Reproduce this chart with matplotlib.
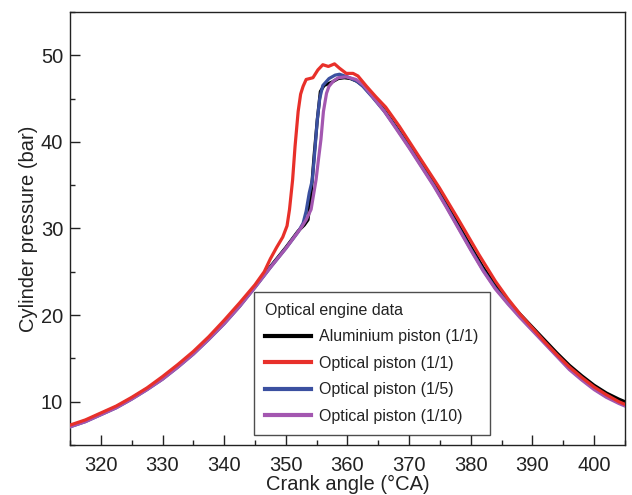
import matplotlib
matplotlib.use("Agg")
import matplotlib.pyplot as plt
from matplotlib.ticker import MultipleLocator

plt.rcParams['font.family'] = ['Liberation Sans', 'DejaVu Sans']

# ---- data (crank angle in °CA, pressure in bar) ----
alu_angle = [315, 317.5, 320, 322.5, 325, 327.5, 330, 332.5, 335, 337.5, 340, 342.5,
             345, 347.5, 350, 352, 353, 353.6, 354.1, 354.6, 355.1, 355.6, 356.2,
             357.5, 358.5, 359.5, 360.5, 361.5, 362.5, 364, 366, 368, 370, 372, 374,
             376, 378, 380, 382, 384, 386, 388, 390, 392, 394, 396, 398, 400, 402,
             404, 405]
alu_p = [7.2, 7.8, 8.6, 9.4, 10.4, 11.5, 12.7, 14.1, 15.6, 17.3, 19.1, 21.1,
         23.3, 25.6, 27.8, 29.7, 30.4, 31.0, 34.0, 38.5, 42.5, 45.8, 46.5,
         46.9, 47.3, 47.4, 47.3, 47.0, 46.5, 45.3, 43.6, 41.6, 39.5, 37.4, 35.2,
         32.9, 30.4, 27.9, 25.5, 23.4, 21.7, 20.1, 18.6, 17.1, 15.6, 14.2, 13.0,
         11.9, 11.0, 10.3, 10.0]

opt1_angle = [315, 317.5, 320, 322.5, 325, 327.5, 330, 332.5, 335, 337.5, 340, 342.5,
              345, 346.5, 347.5, 348.5, 349.5, 350.2, 350.6, 351.1, 351.5, 352,
              352.4, 352.8, 353.3, 354.4, 355.2, 356.0, 356.9, 357.9, 358.7, 359.8,
              360.9, 361.7, 363.1, 364.6, 366.2, 368.4, 371.6, 374.9, 378.1, 381.3,
              384, 386, 388, 390, 392, 394, 396, 398, 400, 402, 404, 405]
opt1_p = [7.3, 7.9, 8.7, 9.5, 10.5, 11.6, 12.9, 14.3, 15.8, 17.5, 19.4, 21.4,
          23.5, 25.0, 26.5, 27.8, 29.0, 30.3, 32.2, 35.6, 39.5, 43.5,
          45.5, 46.4, 47.2, 47.4, 48.3, 48.9, 48.7, 49.0, 48.5, 47.9,
          47.9, 47.6, 46.4, 45.2, 44.0, 41.8, 38.3, 34.7, 30.9, 27.0,
          23.9, 21.9, 20.1, 18.5, 16.9, 15.4, 14.0, 12.8, 11.7, 10.8, 10.0, 9.7]

opt5_angle = [315, 317.5, 320, 322.5, 325, 327.5, 330, 332.5, 335, 337.5, 340, 342.5,
              345, 347.5, 350, 352, 352.8, 353.3, 353.8, 354.3, 354.6, 355.1, 355.5,
              356, 357, 358, 358.7, 360, 361.5, 362.5, 364, 366, 368, 370, 372, 374,
              376, 378, 380, 382, 384, 386, 388, 390, 392, 394, 396, 398, 400, 402,
              404, 405]
opt5_p = [7.1, 7.7, 8.5, 9.3, 10.3, 11.4, 12.6, 14.0, 15.5, 17.2, 19.0, 21.0,
          23.2, 25.5, 27.7, 29.6, 30.6, 32.0, 34.1, 35.6, 38.0, 42.5, 45.0,
          46.5, 47.3, 47.7, 47.8, 47.5, 47.0, 46.4, 45.2, 43.5, 41.5, 39.4, 37.2, 35.0,
          32.6, 30.1, 27.6, 25.2, 23.1, 21.4, 19.8, 18.3, 16.8, 15.3, 13.8, 12.6,
          11.5, 10.6, 9.9, 9.6]

opt10_angle = [315, 317.5, 320, 322.5, 325, 327.5, 330, 332.5, 335, 337.5, 340, 342.5,
               345, 347.5, 350, 352.5, 353.3, 354.1, 354.9, 355.3, 355.7, 356.1, 356.6,
               357.0, 357.7, 358.5, 359.8, 361.4, 362.5, 364, 366, 368, 370, 372, 374,
               376, 378, 380, 382, 384, 386, 388, 390, 392, 394, 396, 398, 400, 402,
               404, 405]
opt10_p = [7.1, 7.7, 8.5, 9.3, 10.3, 11.4, 12.6, 14.0, 15.5, 17.2, 19.0, 21.0,
           23.2, 25.5, 27.7, 30.1, 31.0, 32.2, 35.6, 38.0, 40.3, 43.5, 45.6,
           46.4, 47.0, 47.4, 47.5, 47.2, 46.6, 45.3, 43.5, 41.4, 39.3, 37.1, 34.9,
           32.5, 30.0, 27.5, 25.1, 23.0, 21.3, 19.7, 18.2, 16.7, 15.2, 13.7, 12.5,
           11.4, 10.5, 9.8, 9.5]

series = [
    ("Aluminium piston (1/1)", alu_angle, alu_p, "#000000"),
    ("Optical piston (1/1)", opt1_angle, opt1_p, "#e8302a"),
    ("Optical piston (1/5)", opt5_angle, opt5_p, "#3b50a0"),
    ("Optical piston (1/10)", opt10_angle, opt10_p, "#a357b0"),
]
zorders = [2, 5, 3, 4]

fig = plt.figure(figsize=(6.32, 4.95), dpi=100)
ax = fig.add_axes([0.1108, 0.101, 0.878, 0.875])

for (lab, xa, ya, col), z in zip(series, zorders):
    ax.plot(xa, ya, color=col, lw=2.3, label=lab, zorder=z, solid_joinstyle='round')

ax.set_xlim(315, 405)
ax.set_ylim(5, 55)
ax.xaxis.set_major_locator(MultipleLocator(10))
ax.xaxis.set_minor_locator(MultipleLocator(5))
ax.yaxis.set_major_locator(MultipleLocator(10))
ax.yaxis.set_minor_locator(MultipleLocator(5))
ax.tick_params(which='both', direction='in', width=1.0, color='#222222')
ax.tick_params(which='major', length=7, labelsize=14.5, colors='#222222')
ax.tick_params(which='minor', length=3.5)
ax.tick_params(axis='x', which='major', pad=8)
ax.tick_params(axis='y', which='major', pad=5)
for s in ax.spines.values():
    s.set_linewidth(1.0)
    s.set_color('#222222')

ax.set_xlabel("Crank angle (°CA)", fontsize=14.5, color='#222222', labelpad=0)
ax.set_ylabel("Cylinder pressure (bar)", fontsize=14.5, color='#222222', labelpad=2)

leg = ax.legend(loc='upper left', bbox_to_anchor=(0.3315, 0.354), fontsize=11.5,
                title="Optical engine data", title_fontsize=11.5, frameon=True,
                fancybox=False, edgecolor='#222222', handlelength=2.9,
                labelspacing=0.72, borderaxespad=0, alignment='left',
                handletextpad=0.5, borderpad=0.7)
leg.get_frame().set_linewidth(1.0)
for t in leg.get_texts():
    t.set_color('#222222')
leg.get_title().set_color('#222222')
for h in leg.get_lines():
    h.set_linewidth(3.0)

fig.savefig("out.png", dpi=100)
